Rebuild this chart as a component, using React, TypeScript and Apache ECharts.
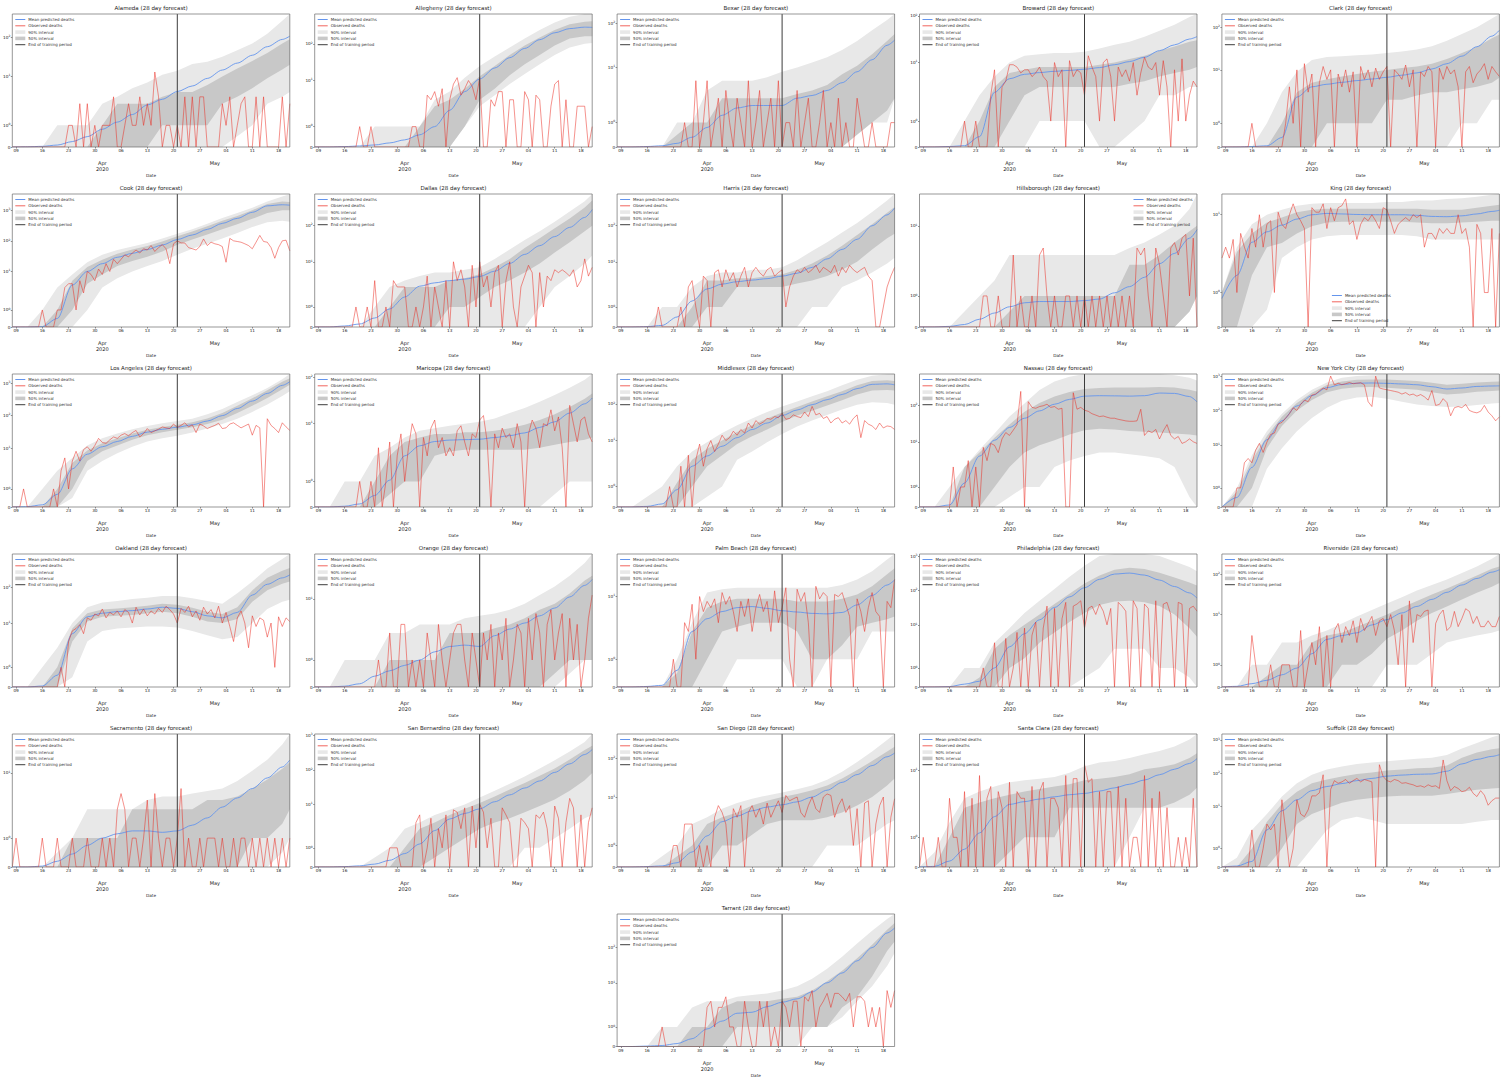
import React, { useEffect, useRef } from 'react';
import * as echarts from 'echarts';

// ---------- shared axes ----------
const SAMPLE_DAYS = [0, 4, 8, 12, 16, 20, 24, 28, 32, 36, 40, 44, 48, 52, 56, 60, 64, 68, 72, 74];
const DAY_TICKS = [1, 8, 15, 22, 29, 36, 43, 50, 57, 64, 71];
const DAY_LABELS = ['09', '16', '23', '30', '06', '13', '20', '27', '04', '11', '18'];
const MONTH_TICKS = [24, 54];
const MONTH_LABELS = ['Apr\n2020', 'May'];
const TRAIN_END = 44;
const X_MAX = 74;

const NAMES = ['Alameda', 'Allegheny', 'Bexar', 'Broward', 'Clark', 'Cook', 'Dallas', 'Harris', 'Hillsborough', 'King',
  'Los Angeles', 'Maricopa', 'Middlesex', 'Nassau', 'New York City', 'Oakland', 'Orange', 'Palm Beach', 'Philadelphia',
  'Riverside', 'Sacramento', 'San Bernardino', 'San Diego', 'Santa Clara', 'Suffolk', 'Tarrant'];
const Y_MAX = [400, 650, 165, 110, 205, 3360, 760, 760, 37, 21.6, 1900, 120, 650, 760, 1150, 900, 84, 71, 1150, 327, 56, 1100, 427, 48, 1500, 900];

// ---------- per county values ----------
const ALAMEDA_MEAN = [0, 0.01, 0.03, 0.09, 0.25, 0.48, 0.82, 1.15, 1.5, 1.94, 2.6, 4.1, 5.7, 8.9, 14.6, 22, 35, 58, 89, 108];
const ALAMEDA_HI90 = [0, 0, 0, 1, 1, 1, 2, 3, 5, 7, 11, 14, 21, 24, 32, 47, 70, 125, 270, 400];
const ALAMEDA_LO90 = [0, 0, 0, 0, 0, 0, 0, 0, 0, 0, 0, 0, 0, 0, 0, 0.5, 1, 2, 3, 4];
const ALAMEDA_HI50 = [0, 0, 0, 0, 0, 0, 1, 2, 2, 2, 3, 4, 4, 6, 10, 16, 25, 40, 70, 90];
const ALAMEDA_LO50 = [0, 0, 0, 0, 0, 0, 0, 0, 0, 0, 1, 1, 1, 1, 2, 3, 5, 9, 15, 20];
const ALAMEDA_OBS = [0, 0, 0, 0, 0, 0, 0, 0, 0, 0, 0, 0, 0, 0, 0, 1, 1, 0, 2, 0, 2, 0, 1, 0, 1, 1, 1, 3, 0, 0, 1, 2, 1, 1, 3, 1, 2, 1, 13, 3, 0, 1, 1, 0, 1, 0, 3, 0, 3, 0, 3, 3, 0, 0, 0, 0, 2, 1, 3, 0, 1, 2, 3, 0, 0, 3, 0, 3, 0, 0, 0, 0, 3, 0, 2];

const ALLEGHENY_MEAN = [0, 0, 0.02, 0.05, 0.1, 0.2, 0.35, 0.6, 1.0, 1.8, 5, 11, 22, 42, 75, 130, 200, 260, 285, 280];
const ALLEGHENY_HI90 = [0, 0, 0, 0, 1, 1, 1, 1, 3, 5, 12, 25, 45, 80, 140, 240, 380, 550, 650, 650];
const ALLEGHENY_LO90 = [0, 0, 0, 0, 0, 0, 0, 0, 0, 0, 1, 2, 4, 8, 15, 28, 50, 80, 100, 105];
const ALLEGHENY_HI50 = [0, 0, 0, 0, 0, 0, 0, 1, 2, 3, 6, 13, 25, 50, 90, 150, 240, 340, 400, 410];
const ALLEGHENY_LO50 = [0, 0, 0, 0, 0, 0, 0, 0, 0, 0, 1, 3, 6, 14, 28, 50, 90, 140, 160, 160];
const ALLEGHENY_OBS = [0, 0, 0, 0, 0, 0, 0, 0, 0, 0, 0, 0, 1, 0, 0, 1, 0, 0, 0, 0, 0, 0, 0, 0, 0, 0, 1, 1, 0, 0, 4, 3, 5, 2, 6, 0, 3, 8, 12, 4, 6, 10, 7, 3, 12, 0, 0, 3, 2, 5, 5, 0, 3, 3, 0, 0, 5, 3, 0, 4, 3, 0, 0, 2, 8, 10, 0, 3, 0, 0, 2, 2, 2, 0, 1];

const BEXAR_MEAN = [0, 0, 0.02, 0.05, 0.15, 0.4, 0.8, 1.3, 1.6, 1.7, 1.7, 1.7, 2.0, 2.3, 3.0, 4.5, 8, 15, 32, 42];
const BEXAR_HI90 = [0, 0, 0, 0, 1, 1, 3, 5, 5, 5, 6, 8, 10, 13, 17, 25, 40, 70, 120, 165];
const BEXAR_LO90 = [0, 0, 0, 0, 0, 0, 0, 0, 0, 0, 0, 0, 0, 0, 0, 0, 1, 1, 1, 2];
const BEXAR_HI50 = [0, 0, 0, 0, 0.5, 1, 1, 2, 2, 2, 2, 2, 2.5, 3, 4, 7, 11, 20, 40, 58];
const BEXAR_LO50 = [0, 0, 0, 0, 0, 0, 0, 0, 0, 0, 0, 0, 0, 0, 0, 0, 0.5, 1, 1.5, 2];
const BEXAR_OBS = [0, 0, 0, 0, 0, 0, 0, 0, 0, 0, 0, 0, 0, 0, 0, 0, 0, 0, 1, 0, 0, 5, 0, 1, 5, 0, 1, 2, 0, 3, 1, 0, 2, 1, 0, 5, 0, 1, 3, 0, 1, 2, 0, 5, 0, 1, 1, 0, 3, 0, 1, 2, 0, 0, 1, 3, 0, 1, 0, 2, 0, 1, 0, 0, 2, 1, 0, 0, 1, 0, 0, 0, 0, 1, 1];

const BROWARD_MEAN = [0, 0, 0.02, 0.05, 0.4, 2.3, 4.5, 5.6, 6.1, 6.5, 6.8, 7.2, 7.8, 9, 10.5, 13, 18, 24, 32, 36];
const BROWARD_HI90 = [0, 0, 0, 1, 2, 5, 10, 14, 15, 16, 16, 17, 20, 24, 28, 36, 48, 65, 95, 110];
const BROWARD_LO90 = [0, 0, 0, 0, 0, 0, 0, 0, 1, 1, 1, 1, 0, 0, 0.5, 1, 2, 2, 3, 3];
const BROWARD_HI50 = [0, 0, 0, 0, 1, 3, 6, 7, 8, 8, 8, 8, 9, 10, 12, 14, 18, 22, 28, 30];
const BROWARD_LO50 = [0, 0, 0, 0, 0, 0, 1, 2, 3, 3, 3, 3, 3, 3, 3.5, 4, 5, 6, 7, 8];
const BROWARD_OBS = [0, 0, 0, 0, 0, 0, 0, 0, 0, 0, 0, 0, 1, 0, 0, 1, 0, 0, 0, 2, 7, 0, 3, 4, 9, 9, 8, 6, 7, 7, 5, 6, 8, 5, 4, 1, 10, 5, 7, 0, 11, 5, 7, 6, 2, 14, 8, 5, 1, 10, 12, 5, 1, 8, 5, 7, 4, 10, 2, 6, 13, 8, 7, 10, 2, 11, 3, 0, 7, 1, 12, 1, 2, 4, 3];

const CLARK_MEAN = [0, 0, 0.02, 0.05, 0.4, 2.3, 4, 4.6, 5.1, 5.6, 6.1, 6.7, 7.5, 8.5, 10.5, 14, 21, 35, 62, 85];
const CLARK_HI90 = [0, 0, 0, 1, 3, 9, 17, 20, 21, 22, 23, 25, 27, 30, 36, 48, 70, 100, 160, 205];
const CLARK_LO90 = [0, 0, 0, 0, 0, 0, 0, 0, 0, 0, 0, 0, 0, 0, 0, 0, 1, 1, 2, 2];
const CLARK_HI50 = [0, 0, 0, 0, 1, 3, 5, 6, 7, 8, 9, 10, 11, 12, 14, 18, 25, 35, 55, 68];
const CLARK_LO50 = [0, 0, 0, 0, 0, 0, 0, 1, 1, 1, 1, 2, 2, 2.5, 3, 3, 3.5, 4, 5, 6.5];
const CLARK_OBS = [0, 0, 0, 0, 0, 0, 0, 0, 1, 0, 0, 0, 0, 0, 0, 0, 0, 1, 4, 1, 10, 0, 14, 3, 8, 0, 5, 12, 6, 10, 0, 8, 4, 10, 3, 9, 0, 12, 6, 10, 4, 11, 6, 9, 12, 0, 10, 8, 6, 13, 4, 10, 0, 9, 7, 12, 9, 0, 11, 6, 12, 8, 10, 4, 0, 9, 12, 5, 8, 10, 14, 6, 12, 9, 7];

const COOK_MEAN = [0, 0, 0.02, 0.5, 3.6, 10, 18, 29, 39, 52, 73, 110, 155, 236, 370, 540, 850, 1380, 1500, 1450];
const COOK_HI90 = [0, 0, 1, 3, 8, 20, 35, 50, 65, 85, 120, 170, 240, 360, 550, 800, 1200, 1900, 2800, 3300];
const COOK_LO90 = [0, 0, 0, 0, 0, 1, 3, 6, 10, 15, 22, 35, 55, 80, 120, 180, 280, 400, 450, 420];
const COOK_HI50 = [0, 0, 0, 1, 5, 14, 24, 38, 52, 68, 95, 140, 200, 300, 450, 650, 1000, 1600, 1900, 1850];
const COOK_LO50 = [0, 0, 0, 0, 1, 4, 8, 15, 22, 30, 45, 75, 110, 160, 240, 350, 520, 800, 1000, 1000];
const COOK_OBS = [0, 0, 0, 0, 0, 0, 0, 0, 1, 0, 0, 0, 1, 1, 3, 4, 4, 1, 5, 2, 10, 8, 5, 12, 8, 18, 10, 25, 18, 25, 35, 30, 40, 50, 40, 55, 50, 70, 45, 60, 75, 55, 18, 80, 100, 85, 85, 60, 55, 50, 65, 115, 70, 90, 80, 75, 65, 20, 120, 100, 95, 90, 80, 70, 55, 90, 150, 95, 90, 60, 27, 60, 100, 105, 47];

const DALLAS_MEAN = [0, 0, 0.05, 0.15, 0.45, 0.9, 1.5, 2.1, 2.6, 3.0, 3.3, 3.9, 5.5, 9, 16, 28, 50, 90, 170, 280];
const DALLAS_HI90 = [0, 0, 0, 0, 1, 2, 3, 4, 5, 5, 6, 7, 12, 22, 40, 70, 130, 250, 480, 760];
const DALLAS_LO90 = [0, 0, 0, 0, 0, 0, 0, 0, 0, 0, 0, 0, 0, 0, 0, 1, 2, 4, 9, 15];
const DALLAS_HI50 = [0, 0, 0, 0, 0, 1, 2, 2, 2, 3, 3.5, 4.5, 7, 12, 24, 45, 85, 160, 320, 500];
const DALLAS_LO50 = [0, 0, 0, 0, 0, 0, 0, 0, 0, 1, 1, 1.5, 2, 3, 5, 9, 18, 35, 70, 100];
const DALLAS_OBS = [0, 0, 0, 0, 0, 0, 0, 0, 0, 0, 0, 1, 0, 0, 1, 0, 3, 0, 0, 1, 0, 3, 2, 2, 2, 0, 0, 1, 0, 1, 4, 0, 2, 1, 0, 3, 0, 10, 3, 6, 2, 0, 8, 1, 10, 2, 4, 1, 5, 8, 0, 3, 10, 1, 0, 2, 4, 8, 5, 0, 5, 1, 4, 3, 6, 5, 6, 5, 4, 6, 2, 3, 12, 4, 7];

const HARRIS_MEAN = [0, 0, 0.02, 0.08, 0.5, 1.3, 1.9, 2.4, 2.8, 3.1, 3.4, 4, 4.8, 7, 12, 22, 42, 100, 200, 310];
const HARRIS_HI90 = [0, 0, 0, 1, 1, 2, 4, 5, 5, 6, 6, 7, 11, 20, 35, 65, 120, 240, 500, 760];
const HARRIS_LO90 = [0, 0, 0, 0, 0, 0, 0, 0, 0, 0, 0, 0, 0, 1, 1, 2, 3, 5, 9, 13];
const HARRIS_HI50 = [0, 0, 0, 0, 0, 1, 3, 3, 3.5, 3.5, 4, 4.5, 6, 9, 15, 28, 55, 110, 230, 330];
const HARRIS_LO50 = [0, 0, 0, 0, 0, 0, 1, 1, 2, 2, 2, 2, 2.5, 3, 4, 6, 10, 22, 45, 60];
const HARRIS_OBS = [0, 0, 0, 0, 0, 0, 0, 0, 0, 0, 0, 1, 0, 0, 0, 0, 0, 1, 0, 2, 3, 1, 0, 4, 3, 0, 5, 6, 2, 6, 3, 5, 2, 4, 7, 2, 5, 7, 5, 4, 6, 7, 4, 5, 6, 1, 2, 4, 6, 5, 7, 5, 6, 8, 5, 7, 6, 5, 8, 4, 7, 5, 8, 6, 5, 6, 7, 4, 3, 0, 0, 1, 2, 4, 7];

const HILLSBOROUGH_MEAN = [0, 0, 0.02, 0.08, 0.25, 0.45, 0.65, 0.78, 0.82, 0.82, 0.82, 0.85, 0.9, 1.1, 1.3, 1.6, 2.1, 3.2, 6, 8.5];
const HILLSBOROUGH_HI90 = [0, 0, 0, 0.5, 1, 1.5, 3, 3, 3, 3, 3, 3, 3, 3, 4, 5, 7, 10, 20, 37];
const HILLSBOROUGH_LO90 = [0, 0, 0, 0, 0, 0, 0, 0, 0, 0, 0, 0, 0, 0, 0, 0, 0, 0, 0.5, 1];
const HILLSBOROUGH_HI50 = [0, 0, 0, 0, 0, 0, 0.5, 1, 1, 1, 1, 1, 1, 1, 2, 2, 3, 5, 8, 10];
const HILLSBOROUGH_LO50 = [0, 0, 0, 0, 0, 0, 0, 0, 0, 0, 0, 0, 0, 0, 0, 0, 0, 0, 0.5, 1];
const HILLSBOROUGH_OBS = [0, 0, 0, 0, 0, 0, 0, 0, 0, 0, 0, 0, 0, 0, 0, 0, 0, 1, 1, 0, 0, 1, 0, 0, 0, 3, 0, 1, 0, 0, 1, 0, 3, 4, 1, 0, 1, 0, 0, 1, 1, 0, 1, 0, 1, 0, 1, 0, 1, 0, 1, 0, 1, 0, 1, 0, 1, 0, 4, 3, 4, 1, 0, 4, 2, 1, 0, 4, 5, 3, 6, 7, 1, 6, 0];

const KING_MEAN = [0.83, 1.5, 3.6, 5.3, 6.8, 8.5, 10, 10.5, 10.3, 10.1, 10, 10, 10, 9.8, 9.4, 9.3, 9.6, 10.3, 11.3, 11.8];
const KING_HI90 = [1, 3, 7, 10, 12, 14, 15, 15.5, 15.5, 15.5, 15.5, 16, 16, 17, 17, 18, 18.5, 19.5, 21, 21.6];
const KING_LO90 = [0, 0, 0, 0.5, 2, 3, 4, 4.5, 4.7, 4.7, 4.7, 4.7, 4.7, 4.5, 4, 4, 4, 4, 4, 4];
const KING_HI50 = [1, 2.5, 5, 7.5, 9, 11, 12, 12.5, 12.5, 12.5, 12.5, 12.5, 12.5, 12.5, 12, 12, 12, 13, 14, 14.5];
const KING_LO50 = [0, 0, 1.5, 3, 3.5, 5, 6.5, 7.5, 7.7, 7.7, 7.7, 7.7, 7.7, 7.5, 7.3, 7.3, 7.5, 7.7, 8, 8];
const KING_OBS = [2, 3, 2, 4, 1, 5, 3, 2, 6, 3, 10, 3, 7, 8, 1, 11, 7, 6, 10, 15, 10, 8, 6, 0, 13, 11, 11, 15, 6, 13, 8, 13, 14, 18, 7, 8, 4, 7, 9, 8, 10, 8, 6, 13, 12, 8, 5, 7, 8, 9, 8, 10, 9, 10, 3, 5, 5, 4, 6, 5, 6, 5, 5, 10, 5, 6, 3, 0, 7, 5, 1, 1, 6, 0, 5];

const LOS_ANGELES_MEAN = [0, 0.02, 0.12, 0.7, 2.3, 6.5, 11, 16, 23, 31, 38, 44, 52, 68, 100, 165, 280, 480, 850, 1100];
const LOS_ANGELES_HI90 = [0, 0, 1, 2, 5, 12, 20, 28, 38, 48, 58, 68, 80, 110, 160, 260, 420, 700, 1300, 1900];
const LOS_ANGELES_LO90 = [0, 0, 0, 0, 0.5, 2, 4, 7, 11, 16, 20, 24, 30, 40, 55, 80, 130, 220, 400, 560];
const LOS_ANGELES_HI50 = [0, 0, 0, 1, 3.5, 8.5, 14, 20, 28, 37, 45, 52, 62, 82, 120, 200, 340, 600, 1100, 1400];
const LOS_ANGELES_LO50 = [0, 0, 0, 0, 1, 4, 8, 12, 18, 25, 31, 37, 44, 55, 75, 120, 200, 350, 650, 880];
const LOS_ANGELES_OBS = [0, 0, 0, 1, 0, 0, 0, 0, 0, 0, 0, 1, 0, 2, 5, 1, 4, 8, 4, 9, 11, 8, 12, 20, 15, 14, 18, 22, 20, 25, 28, 24, 30, 35, 22, 28, 40, 30, 34, 38, 45, 42, 40, 55, 43, 50, 60, 45, 52, 30, 55, 48, 40, 45, 50, 58, 40, 42, 55, 60, 50, 42, 48, 55, 25, 50, 42, 0, 80, 50, 40, 30, 60, 45, 35];

const MARICOPA_MEAN = [0, 0, 0.03, 0.12, 0.45, 1.05, 2, 3.3, 4.1, 4.4, 4.5, 4.6, 5, 5.5, 6.3, 8.3, 11, 17, 27, 36];
const MARICOPA_HI90 = [0, 0, 1, 1, 2, 3, 5, 7, 8, 9, 10, 11, 13, 17, 22, 30, 42, 60, 90, 120];
const MARICOPA_LO90 = [0, 0, 0, 0, 0, 0, 0, 0, 0, 0, 0, 0, 0, 0, 0, 0, 0.5, 1, 1, 1];
const MARICOPA_HI50 = [0, 0, 0, 0, 1, 2, 4, 5, 6, 6, 6.5, 6.5, 7, 8, 9.5, 12, 16, 23, 35, 45];
const MARICOPA_LO50 = [0, 0, 0, 0, 0, 0.5, 1, 1, 2, 2.5, 2.7, 2.7, 2.7, 2.7, 2.7, 3, 3.5, 4, 4.5, 5];
const MARICOPA_OBS = [0, 0, 0, 0, 0, 0, 0, 0, 0, 0, 0, 0, 1, 0, 0, 1, 0, 3, 0, 1, 4, 0, 2, 6, 1, 3, 10, 6, 0, 5, 2, 8, 12, 3, 5, 2, 3, 2, 7, 9, 4, 2, 6, 5, 12, 15, 4, 0, 6, 3, 8, 5, 6, 3, 10, 4, 0, 6, 12, 8, 3, 10, 9, 20, 7, 14, 3, 0, 25, 10, 4, 12, 14, 6, 4];

const MIDDLESEX_MEAN = [0, 0, 0.03, 0.15, 0.85, 2, 3.8, 7, 12, 20, 30, 48, 68, 95, 130, 180, 260, 340, 350, 330];
const MIDDLESEX_HI90 = [0, 0, 0.5, 1, 2, 5, 9, 16, 26, 40, 60, 85, 115, 160, 220, 320, 450, 580, 640, 650];
const MIDDLESEX_LO90 = [0, 0, 0, 0, 0, 0, 0.5, 1, 3, 5, 9, 15, 24, 35, 50, 70, 95, 110, 105, 95];
const MIDDLESEX_HI50 = [0, 0, 0, 0, 1.2, 3, 6, 10, 17, 26, 40, 58, 82, 115, 160, 220, 320, 420, 440, 420];
const MIDDLESEX_LO50 = [0, 0, 0, 0, 0, 1, 2, 4, 8, 13, 20, 32, 48, 65, 90, 125, 180, 230, 240, 230];
const MIDDLESEX_OBS = [0, 0, 0, 0, 0, 0, 0, 0, 0, 0, 0, 0, 0, 0, 1, 0, 0, 2, 0, 4, 0, 3, 8, 2, 6, 10, 5, 8, 14, 10, 12, 18, 14, 20, 16, 30, 22, 35, 28, 32, 40, 38, 45, 42, 55, 38, 40, 50, 45, 42, 60, 45, 85, 50, 55, 40, 45, 30, 38, 42, 30, 35, 28, 40, 50, 12, 35, 28, 25, 20, 30, 22, 25, 24, 20];

const NASSAU_MEAN = [0, 0, 0.1, 1.2, 4, 11, 25, 45, 72, 110, 150, 185, 190, 188, 185, 190, 225, 220, 180, 128];
const NASSAU_HI90 = [0, 0, 1, 2, 6, 17, 50, 115, 275, 470, 640, 760, 760, 760, 760, 760, 760, 700, 600, 500];
const NASSAU_LO90 = [0, 0, 0, 0, 0, 0, 0.5, 1, 1, 2, 3, 4, 5, 5, 4.5, 4, 3.5, 2, 0.5, 0];
const NASSAU_HI50 = [0, 0, 0, 2, 5, 13, 30, 68, 120, 180, 240, 290, 310, 320, 320, 320, 330, 320, 280, 250];
const NASSAU_LO50 = [0, 0, 0, 0, 0, 1, 2, 5, 8, 11, 16, 21, 23, 22, 20, 19, 18, 17, 16, 15];
const NASSAU_OBS = [0, 0, 0, 0, 0, 0, 0, 0, 0, 2, 0, 1, 1, 3, 0, 2, 0, 7, 3, 9, 8, 5, 12, 18, 15, 21, 30, 250, 0, 130, 90, 85, 95, 100, 110, 90, 95, 80, 85, 0, 0, 230, 80, 90, 75, 70, 60, 55, 50, 52, 48, 45, 45, 42, 40, 38, 37, 37, 38, 80, 15, 20, 18, 22, 12, 20, 30, 15, 12, 14, 9, 10, 12, 10, 9];

const NYC_MEAN = [0, 0.5, 2.2, 14, 50, 135, 270, 460, 570, 620, 630, 615, 590, 560, 490, 420, 450, 500, 515, 520];
const NYC_HI90 = [0, 1, 5, 25, 80, 200, 400, 650, 900, 1000, 1050, 1100, 1100, 1100, 1100, 1100, 1120, 1140, 1150, 1150];
const NYC_LO90 = [0, 0, 0, 2, 8, 25, 60, 120, 190, 240, 250, 220, 180, 150, 135, 125, 130, 145, 160, 165];
const NYC_HI50 = [0, 0.8, 3.5, 18, 65, 165, 330, 550, 700, 780, 800, 790, 760, 720, 640, 560, 600, 650, 680, 690];
const NYC_LO50 = [0, 0, 1, 8, 35, 100, 200, 340, 430, 470, 480, 460, 430, 400, 340, 290, 310, 350, 370, 380];
const NYC_OBS = [0, 0, 0, 0, 1, 1, 3, 4, 3, 7, 11, 6, 12, 20, 22, 40, 45, 60, 80, 120, 100, 150, 200, 180, 280, 300, 370, 450, 400, 1000, 550, 620, 560, 600, 650, 600, 620, 640, 560, 180, 130, 1000, 450, 420, 400, 380, 360, 340, 300, 330, 280, 300, 260, 290, 250, 200, 380, 140, 150, 220, 170, 70, 120, 130, 120, 150, 100, 90, 85, 95, 140, 90, 70, 50, 65];

const OAKLAND_MEAN = [0, 0, 0.05, 0.6, 5, 15, 19, 21, 22.5, 25, 28, 26, 21, 16, 14, 20, 62, 125, 190, 230];
const OAKLAND_HI90 = [0, 0, 1, 2, 10, 28, 38, 42, 48, 52, 58, 58, 50, 42, 35, 70, 150, 350, 650, 900];
const OAKLAND_LO90 = [0, 0, 0, 0, 0.5, 3, 6, 7, 7.5, 8, 8, 7.5, 6, 4.5, 3.5, 4, 10, 25, 40, 46];
const OAKLAND_HI50 = [0, 0, 0, 1, 7, 19, 24, 26, 28, 31, 35, 33, 27, 21, 18, 28, 85, 190, 300, 360];
const OAKLAND_LO50 = [0, 0, 0, 0, 3, 11, 15, 16, 17, 19, 21, 19, 15, 11, 10, 13, 40, 85, 130, 150];
const OAKLAND_OBS = [0, 0, 0, 0, 0, 0, 0, 0, 0, 0, 0, 0, 0, 1, 0, 3, 6, 7, 9, 5, 14, 12, 18, 16, 25, 14, 20, 17, 22, 15, 24, 20, 10, 28, 17, 25, 16, 22, 18, 26, 20, 30, 24, 18, 10, 26, 20, 30, 15, 22, 12, 28, 18, 24, 14, 30, 10, 20, 8, 3, 14, 22, 10, 2, 16, 8, 14, 12, 4, 10, 1, 15, 8, 14, 11];

const ORANGE_MEAN = [0, 0, 0.03, 0.12, 0.4, 0.6, 0.8, 1.0, 1.3, 1.5, 1.55, 1.5, 1.9, 2.4, 3.2, 4.5, 6.5, 11, 19, 25];
const ORANGE_HI90 = [0, 0, 1, 1, 1, 2, 2, 3, 3, 3, 4, 4.5, 5, 6, 8, 12, 18, 30, 55, 84];
const ORANGE_LO90 = [0, 0, 0, 0, 0, 0, 0, 0, 0, 0, 0, 0, 0, 0, 0, 0, 0, 0.5, 1, 1];
const ORANGE_HI50 = [0, 0, 0, 0, 0, 1, 1, 1, 1, 2, 2, 2, 2.5, 3, 4, 6, 8, 13, 24, 30];
const ORANGE_LO50 = [0, 0, 0, 0, 0, 0, 0, 0, 0, 0, 0, 0, 0, 0, 0, 0, 0.5, 1, 1, 1];
const ORANGE_OBS = [0, 0, 0, 0, 0, 0, 0, 0, 0, 0, 0, 0, 0, 0, 0, 0, 0, 1, 0, 0, 2, 0, 0, 3, 3, 0, 1, 0, 1, 0, 2, 1, 0, 3, 1, 0, 1, 2, 3, 3, 1, 0, 2, 1, 0, 2, 1, 3, 0, 2, 1, 4, 0, 1, 3, 2, 0, 4, 1, 5, 2, 0, 3, 6, 1, 2, 5, 0, 4, 1, 3, 0, 1, 4, 12];

const PALM_BEACH_MEAN = [0, 0, 0.02, 0.06, 0.6, 2, 3.6, 5, 6, 6.3, 5.8, 5.2, 4.9, 4.6, 4.5, 4.8, 6.8, 10.5, 17, 21.5];
const PALM_BEACH_HI90 = [0, 0, 0, 0, 1, 3, 12, 14, 15, 15, 15, 15, 15, 15, 15, 17, 22, 32, 55, 71];
const PALM_BEACH_LO90 = [0, 0, 0, 0, 0, 0, 0, 0, 1, 1, 1, 1, 0, 0, 1, 1, 1, 2, 2, 2];
const PALM_BEACH_HI50 = [0, 0, 0, 0, 0.5, 2, 6, 8, 9, 9, 9, 9, 8, 8, 8, 9, 11, 16, 28, 37];
const PALM_BEACH_LO50 = [0, 0, 0, 0, 0, 0, 1, 2, 2.5, 3, 3, 3, 2, 1, 1, 1.5, 2.5, 3, 3.5, 4];
const PALM_BEACH_OBS = [0, 0, 0, 0, 0, 0, 0, 0, 0, 0, 0, 0, 0, 0, 0, 1, 0, 0, 3, 2, 7, 1, 10, 5, 8, 6, 9, 3, 12, 7, 10, 5, 2, 8, 4, 9, 2, 6, 11, 5, 8, 2, 13, 3, 6, 15, 1, 0, 14, 8, 12, 3, 0, 16, 9, 12, 10, 0, 11, 10, 12, 7, 4, 0, 9, 5, 2, 6, 12, 5, 4, 0, 8, 6, 22];

const PHILADELPHIA_MEAN = [0, 0, 0.02, 0.15, 0.3, 1.0, 2.3, 5.5, 14, 32, 65, 120, 210, 300, 320, 280, 200, 130, 85, 60];
const PHILADELPHIA_HI90 = [0, 0, 0, 1, 1, 3, 8, 22, 50, 110, 250, 520, 1000, 1150, 1150, 1150, 1000, 700, 480, 360];
const PHILADELPHIA_LO90 = [0, 0, 0, 0, 0, 0, 0, 0, 0, 0, 0, 0.5, 1, 2, 2, 2, 1, 1, 0.5, 0];
const PHILADELPHIA_HI50 = [0, 0, 0, 0, 0.5, 2, 5, 10, 20, 40, 80, 160, 270, 400, 460, 420, 330, 240, 170, 140];
const PHILADELPHIA_LO50 = [0, 0, 0, 0, 0, 0, 1, 1.5, 3, 6, 12, 22, 38, 48, 50, 45, 35, 20, 8, 4.5];
const PHILADELPHIA_OBS = [0, 0, 0, 0, 0, 0, 0, 0, 0, 0, 0, 0, 0, 0, 0, 0, 0, 1, 0, 0, 3, 0, 0, 4, 0, 1, 6, 0, 8, 0, 5, 12, 0, 8, 35, 0, 30, 0, 15, 45, 0, 35, 40, 50, 8, 30, 35, 20, 40, 25, 10, 30, 0, 45, 35, 25, 0, 50, 30, 0, 40, 30, 0, 50, 0, 40, 45, 20, 0, 45, 40, 0, 30, 35, 25];

const RIVERSIDE_MEAN = [0, 0.03, 0.15, 0.3, 0.55, 0.85, 1.5, 2.4, 3, 3.5, 5.5, 7.5, 11, 16, 24, 36, 55, 80, 115, 132];
const RIVERSIDE_HI90 = [0, 0, 1, 1, 2, 2, 3, 4, 6, 9, 13, 19, 27, 40, 55, 75, 110, 160, 250, 327];
const RIVERSIDE_LO90 = [0, 0, 0, 0, 0, 0, 0, 0, 0, 0, 0, 1, 1, 1, 1.5, 2, 2.5, 3, 3.5, 4];
const RIVERSIDE_HI50 = [0, 0, 0, 0.5, 1, 1, 2, 3, 3.5, 5, 7, 10, 15, 22, 32, 45, 65, 95, 140, 160];
const RIVERSIDE_LO50 = [0, 0, 0, 0, 0, 0, 0, 0, 1, 1, 1.5, 2.5, 4, 7, 11, 16, 24, 35, 50, 62];
const RIVERSIDE_OBS = [0, 0, 0, 0, 0, 0, 0, 0, 3, 1, 0, 0, 0, 1, 0, 0, 1, 1, 1, 0, 0, 4, 0, 1, 2, 1, 5, 0, 3, 0, 4, 6, 2, 5, 3, 7, 2, 8, 4, 6, 9, 3, 7, 8, 5, 10, 4, 1, 10, 0, 22, 2, 10, 9, 12, 13, 0, 6, 10, 13, 4, 5, 12, 5, 8, 14, 12, 6, 9, 5, 5, 7, 5, 5, 9];

const SACRAMENTO_MEAN = [0, 0, 0.03, 0.2, 0.45, 0.75, 1.0, 1.15, 1.25, 1.25, 1.2, 1.25, 1.45, 1.7, 2.2, 3.3, 5, 8, 13, 17.7];
const SACRAMENTO_HI90 = [0, 0, 0, 0.5, 1, 2, 2, 2, 2, 3, 3.5, 3.5, 4, 4.5, 5, 7, 11, 18, 35, 56];
const SACRAMENTO_LO90 = [0, 0, 0, 0, 0, 0, 0, 0, 0, 0, 0, 0, 0, 0, 0, 0, 0, 0, 0.5, 1];
const SACRAMENTO_HI50 = [0, 0, 0, 0, 1, 1, 1, 1, 2, 2, 2, 2, 2, 3, 3, 3.5, 5, 7.5, 12, 16];
const SACRAMENTO_LO50 = [0, 0, 0, 0, 0, 0, 0, 0, 0, 0, 0, 0, 0, 0, 0, 0, 1, 1, 1.5, 2];
const SACRAMENTO_OBS = [0, 1, 0, 0, 0, 0, 0, 0, 1, 0, 0, 0, 1, 0, 0, 0, 1, 0, 0, 0, 1, 0, 0, 0, 1, 0, 1, 0, 2, 4, 2, 0, 1, 1, 0, 1, 3, 0, 4, 1, 0, 1, 1, 0, 1, 5, 0, 1, 0, 0, 1, 0, 1, 1, 1, 0, 1, 0, 0, 1, 0, 1, 1, 0, 1, 0, 1, 0, 1, 0, 1, 0, 1, 0, 1];

const SAN_BERNARDINO_MEAN = [0, 0, 0.02, 0.06, 0.15, 0.35, 0.7, 1.2, 1.9, 3.8, 5.5, 7.5, 12, 19, 30, 48, 85, 150, 280, 390];
const SAN_BERNARDINO_HI90 = [0, 0, 0, 0, 0.5, 1, 2, 3, 5, 7, 10, 16, 25, 40, 65, 110, 190, 340, 650, 1100];
const SAN_BERNARDINO_LO90 = [0, 0, 0, 0, 0, 0, 0, 0, 0, 0, 0, 0, 0, 0, 1, 1, 1.5, 2, 4, 5];
const SAN_BERNARDINO_HI50 = [0, 0, 0, 0, 0, 0, 1, 2, 3, 5, 7.5, 11, 17, 27, 42, 68, 110, 200, 380, 500];
const SAN_BERNARDINO_LO50 = [0, 0, 0, 0, 0, 0, 0, 0, 0.5, 1, 1.5, 2, 3, 4, 6, 9, 14, 25, 50, 82];
const SAN_BERNARDINO_OBS = [0, 0, 0, 0, 0, 0, 0, 0, 0, 0, 0, 0, 0, 0, 0, 0, 0, 0, 0, 0, 1, 1, 1, 0, 0, 0, 0, 3, 5, 0, 1, 4, 0, 2, 1, 5, 0, 7, 6, 2, 8, 0, 9, 1, 10, 6, 1, 4, 0, 0, 8, 5, 3, 0, 0, 4, 3, 2, 0, 5, 4, 6, 2, 0, 9, 4, 0, 3, 15, 8, 0, 5, 0, 3, 8];

const SAN_DIEGO_MEAN = [0, 0, 0.02, 0.05, 0.2, 0.7, 1.45, 2.3, 3.2, 4.4, 5.5, 6.3, 7.5, 10, 15, 24, 38, 65, 110, 137];
const SAN_DIEGO_HI90 = [0, 0, 0, 0.5, 1, 2, 3, 5, 7, 9, 11, 13, 16, 20, 28, 45, 80, 150, 300, 427];
const SAN_DIEGO_LO90 = [0, 0, 0, 0, 0, 0, 0, 0, 0, 0, 0, 0, 0, 0, 1, 1, 1, 1.5, 2, 2.5];
const SAN_DIEGO_HI50 = [0, 0, 0, 0, 0.5, 1, 2, 3, 4, 6, 8, 10, 12, 15, 20, 30, 50, 85, 150, 200];
const SAN_DIEGO_LO50 = [0, 0, 0, 0, 0, 0, 0, 1, 1, 1.5, 2, 2.5, 2.5, 2.5, 3, 4, 6, 10, 20, 30];
const SAN_DIEGO_OBS = [0, 0, 0, 0, 0, 0, 0, 0, 0, 0, 0, 0, 0, 0, 0, 1, 1, 0, 2, 2, 2, 0, 1, 0, 1, 0, 3, 6, 4, 2, 0, 5, 3, 6, 0, 4, 6, 3, 5, 2, 7, 3, 5, 8, 4, 11, 8, 9, 10, 4, 3, 6, 10, 5, 4, 10, 12, 11, 3, 6, 9, 4, 6, 1, 5, 0, 7, 8, 0, 2, 6, 10, 0, 3, 9];

const SANTA_CLARA_MEAN = [0, 0.02, 0.2, 0.6, 1.15, 1.7, 2.3, 2.6, 2.9, 3.2, 3.5, 3.7, 4.1, 4.7, 5.5, 6.6, 8.3, 10.5, 13.5, 16.6];
const SANTA_CLARA_HI90 = [0, 0.5, 1.5, 3, 4, 5, 6, 6.5, 7, 7.5, 9, 12, 14, 15, 17, 20, 23, 28, 38, 48];
const SANTA_CLARA_LO90 = [0, 0, 0, 0, 0, 0, 0, 0, 0, 0, 0, 0, 0, 0, 1, 2, 2, 2, 2, 2];
const SANTA_CLARA_HI50 = [0, 0, 1, 2, 2.5, 3, 3.5, 4, 4.5, 5, 5.5, 6.5, 7, 7.5, 8.5, 10.5, 11.5, 13, 17, 21];
const SANTA_CLARA_LO50 = [0, 0, 0, 0, 0, 0, 0.5, 1, 1, 1, 2, 2, 2, 2, 2, 2, 2, 2.5, 3.5, 4.7];
const SANTA_CLARA_OBS = [0, 1, 0, 0, 0, 1, 0, 0, 3, 1, 1, 0, 4, 0, 3, 0, 8, 0, 3, 5, 0, 4, 2, 0, 6, 0, 4, 3, 3, 0, 5, 0, 4, 6, 0, 3, 3, 2, 0, 8, 0, 7, 7, 0, 13, 6, 7, 0, 4, 0, 4, 4, 0, 5, 0, 3, 0, 1, 1, 0, 8, 0, 3, 0, 4, 0, 2, 0, 0, 1, 0, 1, 0, 3, 0];

const SUFFOLK_MEAN = [0, 0.05, 0.3, 2, 7.5, 16, 30, 40, 49, 60, 70, 82, 88, 93, 95, 115, 190, 260, 320, 360];
const SUFFOLK_HI90 = [0, 0.5, 2, 6, 20, 50, 90, 130, 160, 190, 210, 230, 250, 270, 290, 350, 550, 800, 1200, 1400];
const SUFFOLK_LO90 = [0, 0, 0, 0, 0, 0, 1, 2, 4, 5, 4, 3, 3, 3, 3, 3, 3, 3.5, 4, 4];
const SUFFOLK_HI50 = [0, 0, 1, 3.5, 12, 28, 50, 65, 80, 95, 105, 120, 130, 140, 145, 170, 290, 420, 520, 560];
const SUFFOLK_LO50 = [0, 0, 0, 0, 1, 3, 6, 9, 13, 16, 18, 20, 21, 21, 21, 24, 28, 32, 35, 36];
const SUFFOLK_OBS = [0, 0, 0, 0, 0, 0, 0, 0, 2, 0, 0, 1, 3, 2, 3, 0, 16, 2, 0, 1, 16, 6, 5, 8, 21, 21, 26, 90, 0, 33, 60, 50, 55, 65, 50, 60, 70, 55, 65, 60, 55, 0, 180, 80, 60, 55, 65, 60, 50, 52, 48, 45, 40, 42, 38, 45, 40, 42, 35, 250, 60, 30, 40, 35, 28, 30, 38, 25, 20, 30, 22, 11, 15, 18, 18];

const TARRANT_MEAN = [0, 0, 0.02, 0.05, 0.15, 0.4, 0.9, 1.3, 1.7, 1.75, 2.1, 2.8, 3.5, 5.5, 10, 19, 42, 100, 260, 360];
const TARRANT_HI90 = [0, 0, 0, 1, 1, 2, 3, 3, 4, 4.5, 5, 6, 8, 13, 25, 55, 130, 300, 650, 900];
const TARRANT_LO90 = [0, 0, 0, 0, 0, 0, 0, 0, 0, 0, 0, 0, 0, 1, 1, 1.5, 3, 8, 30, 70];
const TARRANT_HI50 = [0, 0, 0, 0, 0, 1, 1, 2, 3, 3, 3, 3.5, 4, 6, 11, 22, 50, 120, 320, 500];
const TARRANT_LO50 = [0, 0, 0, 0, 0, 0, 0, 0, 1, 1, 1, 1, 1, 1, 1, 2, 4, 15, 80, 150];
const TARRANT_OBS = [0, 0, 0, 0, 0, 0, 0, 0, 0, 0, 0, 0, 1, 0, 0, 0, 0, 0, 0, 0, 0, 0, 0, 0, 2, 3, 1, 2, 2, 4, 1, 1, 0, 0, 3, 1, 0, 0, 3, 1, 3, 0, 1, 0, 3, 2, 1, 3, 3, 0, 4, 3, 6, 1, 2, 3, 5, 2, 5, 5, 4, 3, 5, 1, 4, 4, 3, 1, 2, 1, 2, 0, 6, 2, 6];

const PANELS = [
  [ALAMEDA_MEAN, ALAMEDA_LO90, ALAMEDA_HI90, ALAMEDA_LO50, ALAMEDA_HI50, ALAMEDA_OBS],
  [ALLEGHENY_MEAN, ALLEGHENY_LO90, ALLEGHENY_HI90, ALLEGHENY_LO50, ALLEGHENY_HI50, ALLEGHENY_OBS],
  [BEXAR_MEAN, BEXAR_LO90, BEXAR_HI90, BEXAR_LO50, BEXAR_HI50, BEXAR_OBS],
  [BROWARD_MEAN, BROWARD_LO90, BROWARD_HI90, BROWARD_LO50, BROWARD_HI50, BROWARD_OBS],
  [CLARK_MEAN, CLARK_LO90, CLARK_HI90, CLARK_LO50, CLARK_HI50, CLARK_OBS],
  [COOK_MEAN, COOK_LO90, COOK_HI90, COOK_LO50, COOK_HI50, COOK_OBS],
  [DALLAS_MEAN, DALLAS_LO90, DALLAS_HI90, DALLAS_LO50, DALLAS_HI50, DALLAS_OBS],
  [HARRIS_MEAN, HARRIS_LO90, HARRIS_HI90, HARRIS_LO50, HARRIS_HI50, HARRIS_OBS],
  [HILLSBOROUGH_MEAN, HILLSBOROUGH_LO90, HILLSBOROUGH_HI90, HILLSBOROUGH_LO50, HILLSBOROUGH_HI50, HILLSBOROUGH_OBS],
  [KING_MEAN, KING_LO90, KING_HI90, KING_LO50, KING_HI50, KING_OBS],
  [LOS_ANGELES_MEAN, LOS_ANGELES_LO90, LOS_ANGELES_HI90, LOS_ANGELES_LO50, LOS_ANGELES_HI50, LOS_ANGELES_OBS],
  [MARICOPA_MEAN, MARICOPA_LO90, MARICOPA_HI90, MARICOPA_LO50, MARICOPA_HI50, MARICOPA_OBS],
  [MIDDLESEX_MEAN, MIDDLESEX_LO90, MIDDLESEX_HI90, MIDDLESEX_LO50, MIDDLESEX_HI50, MIDDLESEX_OBS],
  [NASSAU_MEAN, NASSAU_LO90, NASSAU_HI90, NASSAU_LO50, NASSAU_HI50, NASSAU_OBS],
  [NYC_MEAN, NYC_LO90, NYC_HI90, NYC_LO50, NYC_HI50, NYC_OBS],
  [OAKLAND_MEAN, OAKLAND_LO90, OAKLAND_HI90, OAKLAND_LO50, OAKLAND_HI50, OAKLAND_OBS],
  [ORANGE_MEAN, ORANGE_LO90, ORANGE_HI90, ORANGE_LO50, ORANGE_HI50, ORANGE_OBS],
  [PALM_BEACH_MEAN, PALM_BEACH_LO90, PALM_BEACH_HI90, PALM_BEACH_LO50, PALM_BEACH_HI50, PALM_BEACH_OBS],
  [PHILADELPHIA_MEAN, PHILADELPHIA_LO90, PHILADELPHIA_HI90, PHILADELPHIA_LO50, PHILADELPHIA_HI50, PHILADELPHIA_OBS],
  [RIVERSIDE_MEAN, RIVERSIDE_LO90, RIVERSIDE_HI90, RIVERSIDE_LO50, RIVERSIDE_HI50, RIVERSIDE_OBS],
  [SACRAMENTO_MEAN, SACRAMENTO_LO90, SACRAMENTO_HI90, SACRAMENTO_LO50, SACRAMENTO_HI50, SACRAMENTO_OBS],
  [SAN_BERNARDINO_MEAN, SAN_BERNARDINO_LO90, SAN_BERNARDINO_HI90, SAN_BERNARDINO_LO50, SAN_BERNARDINO_HI50, SAN_BERNARDINO_OBS],
  [SAN_DIEGO_MEAN, SAN_DIEGO_LO90, SAN_DIEGO_HI90, SAN_DIEGO_LO50, SAN_DIEGO_HI50, SAN_DIEGO_OBS],
  [SANTA_CLARA_MEAN, SANTA_CLARA_LO90, SANTA_CLARA_HI90, SANTA_CLARA_LO50, SANTA_CLARA_HI50, SANTA_CLARA_OBS],
  [SUFFOLK_MEAN, SUFFOLK_LO90, SUFFOLK_HI90, SUFFOLK_LO50, SUFFOLK_HI50, SUFFOLK_OBS],
  [TARRANT_MEAN, TARRANT_LO90, TARRANT_HI90, TARRANT_LO50, TARRANT_HI50, TARRANT_OBS],
];

// ---------- symlog (linthresh 2, linscale 1, base 10) ----------
const LINADJ = 10 / 9;
const T = (v: number) => (v <= 2 ? v * LINADJ : 2 * (LINADJ + Math.log10(v / 2)));
const Tinv = (t: number) => (t <= 2 * LINADJ ? t / LINADJ : 2 * Math.pow(10, t / 2 - LINADJ));

// ---------- layout ----------
const COL_X = [12.3, 314.7, 617.1, 919.5, 1221.9];
const ROW_Y = [14, 194, 374, 554, 734, 914];
const GW = 277.5;
const GH = 133;

const C_MEAN = '#6495ed';
const C_OBS = 'rgba(236,40,30,0.72)';
const C_90 = '#e8e8e8';
const C_50 = '#c8c8c8';
const C_END = '#3c3c3c';
const TXT = '#222';
const FONT = 'DejaVu Sans';
const LINE_ICON = 'path://M0,0 L20,0 L20,2 L0,2 Z';

function buildOption() {
  const grid: any[] = [];
  const xAxis: any[] = [];
  const yAxis: any[] = [];
  const series: any[] = [];
  const title: any[] = [];
  const legend: any[] = [];

  NAMES.forEach((name, i) => {
    const row = i < 25 ? Math.floor(i / 5) : 5;
    const col = i < 25 ? i % 5 : 2;
    const gl = COL_X[col];
    const gt = ROW_Y[row];
    const [mean, lo90, hi90, lo50, hi50, obs] = PANELS[i];
    const tMax = T(Y_MAX[i]);
    const yTicks = [0, 1, 10, 100, 1000].map(T).filter((t) => t <= tMax + 1e-9);

    grid.push({ left: gl, top: gt, width: GW, height: GH, show: true, borderColor: '#6a6a6a', borderWidth: 0.7, backgroundColor: 'transparent', z: 10 });

    xAxis.push({
      type: 'value', gridIndex: i, min: 0, max: X_MAX,
      splitLine: { show: false }, axisLine: { show: false },
      axisTick: { show: true, customValues: DAY_TICKS, length: 1.5, lineStyle: { color: '#444', width: 0.6 } },
      axisLabel: {
        customValues: DAY_TICKS, fontSize: 4.2, margin: 1.5, color: TXT, fontFamily: FONT,
        formatter: (v: number) => { const k = DAY_TICKS.indexOf(Math.round(v)); return k >= 0 ? DAY_LABELS[k] : ''; },
      },
    });
    xAxis.push({
      type: 'value', gridIndex: i, min: 0, max: X_MAX, position: 'bottom',
      splitLine: { show: false }, axisLine: { show: false }, axisTick: { show: false },
      axisLabel: {
        customValues: MONTH_TICKS, fontSize: 5, lineHeight: 6, margin: 13, color: TXT, fontFamily: FONT,
        formatter: (v: number) => { const k = MONTH_TICKS.indexOf(Math.round(v)); return k >= 0 ? MONTH_LABELS[k] : ''; },
      },
      name: 'Date', nameLocation: 'middle', nameGap: 26.5,
      nameTextStyle: { fontSize: 4.2, color: TXT, fontFamily: FONT },
    });
    yAxis.push({
      type: 'value', gridIndex: i, min: 0, max: tMax,
      splitLine: { show: false }, axisLine: { show: false },
      axisTick: { show: true, customValues: yTicks, length: 1.5, lineStyle: { color: '#444', width: 0.6 } },
      axisLabel: {
        customValues: yTicks, fontSize: 4.2, lineHeight: 6, margin: 2, color: TXT, fontFamily: FONT,
        formatter: (v: number) => {
          if (v < 0.01) return '0';
          const k = Math.round(Math.log10(Tinv(v)));
          return '10{sup|' + k + '}';
        },
        rich: { sup: { fontSize: 3, lineHeight: 3, verticalAlign: 'top', color: TXT, fontFamily: FONT } },
      },
    });

    const band = (lo: number[], hi: number[], color: string) => (params: any, api: any) => {
      const pts: number[][] = [];
      for (let k = 0; k < SAMPLE_DAYS.length; k++) pts.push(api.coord([SAMPLE_DAYS[k], T(hi[k])]));
      for (let k = SAMPLE_DAYS.length - 1; k >= 0; k--) pts.push(api.coord([SAMPLE_DAYS[k], T(lo[k])]));
      return { type: 'polygon', shape: { points: pts }, style: { fill: color } };
    };

    series.push({
      type: 'custom', name: '90% interval', xAxisIndex: 2 * i, yAxisIndex: i, z: 1, silent: true,
      itemStyle: { color: C_90 }, data: [[0, 0]], renderItem: band(lo90, hi90, C_90),
    });
    series.push({
      type: 'custom', name: '50% interval', xAxisIndex: 2 * i, yAxisIndex: i, z: 1, silent: true,
      itemStyle: { color: C_50 }, data: [[0, 0]], renderItem: band(lo50, hi50, C_50),
    });
    series.push({
      type: 'line', name: 'Mean predicted deaths', xAxisIndex: 2 * i, yAxisIndex: i, z: 2, symbol: 'none',
      smooth: 0.3, smoothMonotone: 'x',
      lineStyle: { color: C_MEAN, width: 0.9 }, itemStyle: { color: C_MEAN },
      data: SAMPLE_DAYS.map((d, k) => [d, T(mean[k])]),
    });
    series.push({
      type: 'line', name: 'Observed deaths', xAxisIndex: 2 * i, yAxisIndex: i, z: 3, symbol: 'none',
      lineStyle: { color: C_OBS, width: 0.7 }, itemStyle: { color: C_OBS },
      data: obs.slice(0, X_MAX + 1).map((v, d) => [d, T(v)]),
    });
    series.push({
      type: 'line', name: 'End of training period', xAxisIndex: 2 * i, yAxisIndex: i, z: 4, symbol: 'none',
      lineStyle: { color: C_END, width: 1 }, itemStyle: { color: C_END },
      data: [[TRAIN_END, 0], [TRAIN_END, tMax]],
    });

    title.push({
      text: name + ' (28 day forecast)', left: gl + GW / 2, top: gt - 9.5, textAlign: 'center', padding: 0,
      textStyle: { fontSize: 5.5, fontWeight: 'normal', color: TXT, fontFamily: FONT },
    });

    let lx = gl + 3;
    let ly = gt + 3;
    if (name === 'King') { lx = gl + 110; ly = gt + 99; }
    if (name === 'Hillsborough') { lx = gl + 214; ly = gt + 3; }
    legend.push({
      left: lx, top: ly, orient: 'vertical', padding: 0, itemGap: 1.3, itemWidth: 10, itemHeight: 3.6,
      selectedMode: false,
      textStyle: { fontSize: 4, lineHeight: 5, color: '#333', fontFamily: FONT, padding: [0, 0, 0, -2] },
      data: [
        { name: 'Mean predicted deaths', icon: LINE_ICON, itemStyle: { color: C_MEAN } },
        { name: 'Observed deaths', icon: LINE_ICON, itemStyle: { color: C_OBS } },
        { name: '90% interval', icon: 'rect' },
        { name: '50% interval', icon: 'rect' },
        { name: 'End of training period', icon: LINE_ICON, itemStyle: { color: C_END } },
      ],
    });
  });

  return { animation: false, textStyle: { fontFamily: FONT }, grid, xAxis, yAxis, series, title, legend };
}

export default function App() {
  const ref = useRef<HTMLDivElement>(null);
  useEffect(() => {
    if (!ref.current) return;
    const chart = echarts.init(ref.current, undefined, { renderer: 'svg' });
    chart.setOption(buildOption() as any);
    return () => chart.dispose();
  }, []);
  return (
    <div
      ref={ref}
      style={{ position: 'absolute', left: 0, top: 0, width: 1501, height: 1078, background: '#fff' }}
    />
  );
}
